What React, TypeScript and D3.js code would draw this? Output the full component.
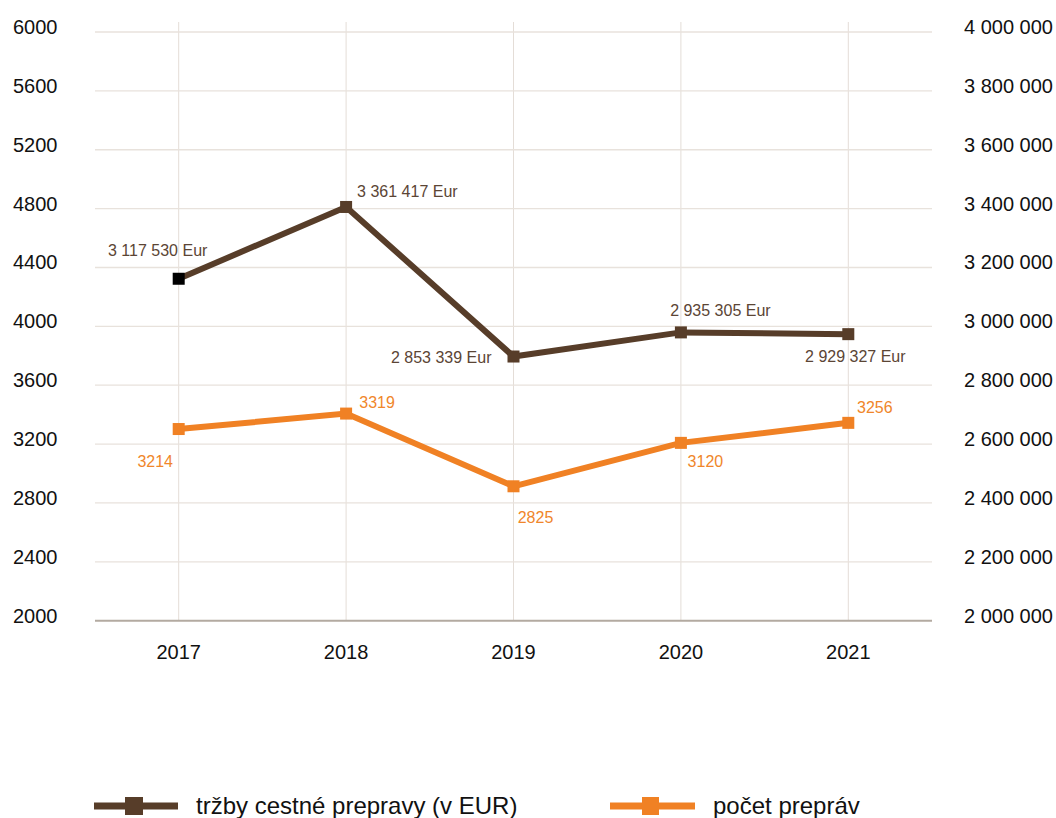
import React from "react";
import * as d3 from "d3";

const years = ["2017", "2018", "2019", "2020", "2021"];
const revenue = [3117530, 3361417, 2853339, 2935305, 2929327];
const trips = [3214, 3319, 2825, 3120, 3256];
const leftTicks = [2000, 2400, 2800, 3200, 3600, 4000, 4400, 4800, 5200, 5600, 6000];
const rightTicks = [2000000, 2200000, 2400000, 2600000, 2800000, 3000000, 3200000, 3400000, 3600000, 3800000, 4000000];
const seriesNames = ["tržby cestné prepravy (v EUR)", "počet prepráv"];

const W = 1056;
const H = 818;
const left = 95;
const right = 932;
const top = 32;
const bottom = 620.7;
const seriesShift = 13;
const BROWN = "#573d29";
const ORANGE = "#f08124";
const FONT = "'Liberation Sans', Arial, Helvetica, sans-serif";

const fmtSpace = (v: number) => d3.format(",")(v).replace(/,/g, " ");

// label offsets relative to drawn points
const brownLabelPos: [number, number, string][] = [
  [-21, -28, "middle"],
  [11, -16, "start"],
  [-22, 1, "end"],
  [39.5, -22, "middle"],
  [7, 22, "middle"],
];
const orangeLabelPos: [number, number, string][] = [
  [-23.5, 32.7, "middle"],
  [31, -10.7, "middle"],
  [22, 30.7, "middle"],
  [24.5, 18.5, "middle"],
  [26.5, -15.7, "middle"],
];

export default function App() {
  const x = d3.scaleBand<string>().domain(years).range([left, right]);
  const cx = (y: string) => (x(y) as number) + x.bandwidth() / 2;
  const yL = d3.scaleLinear().domain([2000, 6000]).range([bottom, top]);
  const yR = d3.scaleLinear().domain([2000000, 4000000]).range([bottom, top]);
  const yLs = d3.scaleLinear().domain([2000, 6000]).range([bottom - seriesShift, top - seriesShift]);
  const yRs = d3.scaleLinear().domain([2000000, 4000000]).range([bottom - seriesShift, top - seriesShift]);

  const brownPts = years.map((yr, i) => [cx(yr), yRs(revenue[i])] as [number, number]);
  const orangePts = years.map((yr, i) => [cx(yr), yLs(trips[i])] as [number, number]);
  const line = d3.line();

  return (
    <svg width={W} height={H} style={{ position: "absolute", left: 0, top: 0, background: "#fff" }} fontFamily={FONT}>
      {/* vertical grid */}
      {years.map((yr) => (
        <line key={yr} x1={cx(yr)} x2={cx(yr)} y1={22} y2={bottom} stroke="#e4ddd7" strokeWidth={1} />
      ))}
      {/* horizontal grid */}
      {leftTicks.slice(1).map((t) => (
        <line key={t} x1={left} x2={right} y1={yL(t)} y2={yL(t)} stroke="#e8e2dc" strokeWidth={1.3} />
      ))}
      <line x1={left} x2={right} y1={bottom} y2={bottom} stroke="#b3aaa1" strokeWidth={2} />
      {/* left ticks */}
      {leftTicks.map((t) => (
        <text key={t} x={57.5} y={yL(t) - 5} dy="0.35em" textAnchor="end" fontSize={20} fill="#111">
          {t}
        </text>
      ))}
      {/* right ticks */}
      {rightTicks.map((t) => (
        <text key={t} x={964} y={yR(t) - 5} dy="0.35em" textAnchor="start" fontSize={20} fill="#111">
          {fmtSpace(t)}
        </text>
      ))}
      {/* x labels */}
      {years.map((yr) => (
        <text key={yr} x={cx(yr)} y={652} dy="0.35em" textAnchor="middle" fontSize={20} fill="#111">
          {yr}
        </text>
      ))}
      {/* brown series */}
      <path d={line(brownPts) || ""} fill="none" stroke={BROWN} strokeWidth={6} strokeLinejoin="miter" />
      {brownPts.map(([px, py], i) => (
        <rect key={i} x={px - 6} y={py - 6} width={12} height={12} fill={i === 0 ? "#000" : BROWN} />
      ))}
      {/* orange series */}
      <path d={line(orangePts) || ""} fill="none" stroke={ORANGE} strokeWidth={6} strokeLinejoin="miter" />
      {orangePts.map(([px, py], i) => (
        <rect key={i} x={px - 6} y={py - 6} width={12} height={12} fill={ORANGE} />
      ))}
      {/* labels */}
      {brownPts.map(([px, py], i) => (
        <text key={i} x={px + brownLabelPos[i][0]} y={py + brownLabelPos[i][1]} dy="0.35em"
          textAnchor={brownLabelPos[i][2] as any} fontSize={16} fill="#5b4535">
          {fmtSpace(revenue[i]) + " Eur"}
        </text>
      ))}
      {orangePts.map(([px, py], i) => (
        <text key={i} x={px + orangeLabelPos[i][0]} y={py + orangeLabelPos[i][1]} dy="0.35em"
          textAnchor={orangeLabelPos[i][2] as any} fontSize={16} fill="#f0862a">
          {trips[i]}
        </text>
      ))}
      {/* legend */}
      <g>
        <line x1={94} x2={178} y1={806} y2={806} stroke={BROWN} strokeWidth={7} />
        <rect x={125} y={797} width={18} height={18} fill={BROWN} />
        <text x={196} y={814} fontSize={24} fill="#111">{seriesNames[0]}</text>
        <line x1={610} x2={695} y1={806} y2={806} stroke={ORANGE} strokeWidth={7} />
        <rect x={642} y={797} width={17} height={18} fill={ORANGE} />
        <text x={713} y={814} fontSize={24} fill="#111">{seriesNames[1]}</text>
      </g>
    </svg>
  );
}
